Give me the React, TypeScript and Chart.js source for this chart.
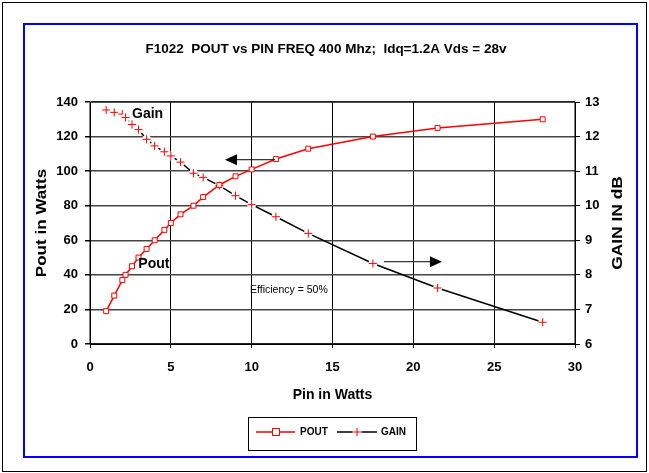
import { useEffect, useRef } from 'react';
import { Chart, registerables } from 'chart.js';

Chart.register(...registerables);

const W = 649;
const H = 473;

const TITLE = 'F1022  POUT vs PIN FREQ 400 Mhz;  Idq=1.2A Vds = 28v';
const X_TITLE = 'Pin in Watts';
const Y_TITLE = 'Pout in Watts';
const Y2_TITLE = 'GAIN IN dB';

const pinWatts = [1, 1.5, 2, 2.2, 2.6, 3, 3.5, 4, 4.6, 5, 5.6, 6.4, 7, 8, 9, 10, 11.5, 13.5, 17.5, 21.5, 28];
const poutWatts = [19, 28, 37, 40, 45, 50, 55, 60, 66, 70, 75, 80, 85, 92, 97, 101, 107, 113, 120, 125, 130];
const gainDb = [12.77, 12.7, 12.65, 12.55, 12.35, 12.2, 11.92, 11.73, 11.56, 11.44, 11.26, 10.94, 10.82, 10.58, 10.29, 10.03, 9.68, 9.2, 8.33, 7.62, 6.63];

// annotation anchors, in data units (x, left-axis y)
const gainLabel = { x: 2.6, y: 133, text: 'Gain' };
const poutLabel = { x: 2.99, y: 46.3, text: 'Pout' };
const effLabel = { x: 9.9, y: 31.2, text: 'Efficiency = 50%' };
const leftArrow = { x1: 11.44, x2: 8.35, y: 106.6 };
const rightArrow = { x1: 18.18, x2: 21.77, y: 47.6 };

function arrow(ctx: CanvasRenderingContext2D, x1: number, x2: number, y: number) {
  const dir = x2 > x1 ? 1 : -1;
  const headLen = 12;
  const half = 5.5;
  ctx.beginPath();
  ctx.moveTo(x1, y);
  ctx.lineTo(x2 - dir * headLen, y);
  ctx.strokeStyle = '#000';
  ctx.lineWidth = 1;
  ctx.stroke();
  ctx.beginPath();
  ctx.moveTo(x2, y);
  ctx.lineTo(x2 - dir * headLen, y - half);
  ctx.lineTo(x2 - dir * headLen, y + half);
  ctx.closePath();
  ctx.fillStyle = '#000';
  ctx.fill();
}

const decor = {
  id: 'decor',
  beforeDraw(chart: any) {
    const ctx = chart.ctx as CanvasRenderingContext2D;
    ctx.save();
    ctx.fillStyle = '#fff';
    ctx.fillRect(0, 0, W, H);
    ctx.strokeStyle = '#000';
    ctx.lineWidth = 1;
    ctx.strokeRect(2.5, 2.5, W - 5, H - 4);
    ctx.strokeStyle = '#0000ff';
    ctx.lineWidth = 2;
    ctx.strokeRect(24, 24, 613, 433);
    ctx.restore();
  },
  beforeDatasetsDraw(chart: any) {
    const ctx = chart.ctx as CanvasRenderingContext2D;
    const a = chart.chartArea;
    ctx.save();
    ctx.strokeStyle = '#000';
    ctx.lineWidth = 1;
    ctx.strokeRect(a.left, a.top, a.right - a.left, a.bottom - a.top);
    ctx.restore();
  },
  afterDatasetDraw(chart: any, args: any) {
    if (args.index !== 1) return;
    const ctx = chart.ctx as CanvasRenderingContext2D;
    ctx.save();
    for (const el of args.meta.data) {
      ctx.beginPath();
      ctx.arc(el.x, el.y, 4.5, 0, Math.PI * 2);
      ctx.fillStyle = '#fff';
      ctx.fill();
      el.draw(ctx, chart.chartArea);
    }
    ctx.restore();
  },
  afterDraw(chart: any) {
    const ctx = chart.ctx as CanvasRenderingContext2D;
    const xs = chart.scales.x;
    const ys = chart.scales.y;
    const a = chart.chartArea;
    ctx.save();
    ctx.fillStyle = '#000';
    ctx.textBaseline = 'middle';

    // title
    ctx.font = 'bold 13.5px Arial, "Liberation Sans", sans-serif';
    ctx.textAlign = 'center';
    ctx.fillText(TITLE, 326, 49);

    // x title
    ctx.font = 'bold 14px Arial, "Liberation Sans", sans-serif';
    ctx.fillText(X_TITLE, (a.left + a.right) / 2, 395);

    // y titles (both read bottom to top)
    const yc = (a.top + a.bottom) / 2;
    ctx.save();
    ctx.translate(42, yc);
    ctx.rotate(-Math.PI / 2);
    ctx.scale(1.22, 1);
    ctx.font = 'bold 14px Arial, "Liberation Sans", sans-serif';
    ctx.fillText(Y_TITLE, 0, 0);
    ctx.restore();
    ctx.save();
    ctx.translate(618, yc);
    ctx.rotate(-Math.PI / 2);
    ctx.scale(1.24, 1);
    ctx.font = 'bold 14px Arial, "Liberation Sans", sans-serif';
    ctx.fillText(Y2_TITLE, 0, 0);
    ctx.restore();

    // labels
    ctx.textAlign = 'left';
    ctx.font = 'bold 14px Arial, "Liberation Sans", sans-serif';
    ctx.fillText(gainLabel.text, xs.getPixelForValue(gainLabel.x), ys.getPixelForValue(gainLabel.y));
    ctx.fillText(poutLabel.text, xs.getPixelForValue(poutLabel.x), ys.getPixelForValue(poutLabel.y));
    ctx.font = '10.5px Arial, "Liberation Sans", sans-serif';
    ctx.fillText(effLabel.text, xs.getPixelForValue(effLabel.x), ys.getPixelForValue(effLabel.y));

    // arrows
    arrow(ctx, xs.getPixelForValue(leftArrow.x1), xs.getPixelForValue(leftArrow.x2), ys.getPixelForValue(leftArrow.y));
    arrow(ctx, xs.getPixelForValue(rightArrow.x1), xs.getPixelForValue(rightArrow.x2), ys.getPixelForValue(rightArrow.y));

    // legend
    ctx.strokeStyle = '#000';
    ctx.lineWidth = 1;
    ctx.strokeRect(248.5, 417.5, 168, 33);
    const ly = 432;
    ctx.beginPath();
    ctx.moveTo(256, ly);
    ctx.lineTo(295, ly);
    ctx.strokeStyle = '#ff0000';
    ctx.lineWidth = 1.5;
    ctx.stroke();
    ctx.fillStyle = '#fff';
    ctx.fillRect(272.5, ly - 3.5, 7, 7);
    ctx.lineWidth = 1;
    ctx.strokeRect(272.5, ly - 3.5, 7, 7);
    ctx.beginPath();
    ctx.moveTo(337, ly);
    ctx.lineTo(377, ly);
    ctx.strokeStyle = '#000';
    ctx.lineWidth = 1.5;
    ctx.stroke();
    ctx.beginPath();
    ctx.arc(357, ly, 4.5, 0, Math.PI * 2);
    ctx.fillStyle = '#fff';
    ctx.fill();
    ctx.beginPath();
    ctx.moveTo(353, ly);
    ctx.lineTo(361, ly);
    ctx.moveTo(357, ly - 4);
    ctx.lineTo(357, ly + 4);
    ctx.strokeStyle = '#ff0000';
    ctx.lineWidth = 1;
    ctx.stroke();
    ctx.fillStyle = '#000';
    ctx.font = 'bold 10px Arial, "Liberation Sans", sans-serif';
    ctx.textAlign = 'left';
    ctx.fillText('POUT', 300, ly);
    ctx.fillText('GAIN', 381, ly);

    ctx.restore();
  },
};

export default function App() {
  const ref = useRef<HTMLCanvasElement | null>(null);
  useEffect(() => {
    document.body.style.margin = '0';
    const canvas = ref.current;
    if (!canvas) return;
    const tickFont = { family: 'Arial, "Liberation Sans", sans-serif', size: 13, weight: 'bold' as const };
    const chart = new Chart(canvas, {
      type: 'line',
      data: {
        datasets: [
          {
            label: 'POUT',
            data: pinWatts.map((x, i) => ({ x, y: poutWatts[i] })),
            yAxisID: 'y',
            borderColor: '#ff0000',
            borderWidth: 1.5,
            pointStyle: 'rect',
            pointRadius: 3.5,
            pointBackgroundColor: '#fff',
            pointBorderColor: '#ff0000',
            pointBorderWidth: 1,
            tension: 0,
          },
          {
            label: 'GAIN',
            data: pinWatts.map((x, i) => ({ x, y: gainDb[i] })),
            yAxisID: 'y2',
            borderColor: '#000',
            borderWidth: 1.5,
            pointStyle: 'cross',
            pointRadius: 4,
            pointBorderColor: '#ff0000',
            pointBorderWidth: 1,
            tension: 0,
          },
        ],
      },
      options: {
        responsive: false,
        animation: false,
        devicePixelRatio: 1,
        layout: { padding: { top: 102, left: 0, right: 0, bottom: 0 } },
        plugins: { legend: { display: false }, title: { display: false }, tooltip: { enabled: false } },
        scales: {
          x: {
            type: 'linear',
            min: 0,
            max: 30,
            ticks: { stepSize: 5, color: '#000', font: tickFont, padding: 12, maxRotation: 0 },
            grid: { color: '#000', lineWidth: 1, tickLength: 4, tickColor: '#000' },
            border: { color: '#000', width: 1 },
            afterFit: (s: any) => { s.height = 129; },
          },
          y: {
            type: 'linear',
            position: 'left',
            min: 0,
            max: 140,
            ticks: { stepSize: 20, color: '#000', font: tickFont, padding: 7 },
            grid: { color: '#444444', lineWidth: 1.5, tickLength: 5, tickColor: '#000' },
            border: { color: '#000', width: 1 },
            afterFit: (s: any) => { s.width = 90; },
          },
          y2: {
            type: 'linear',
            position: 'right',
            min: 6,
            max: 13,
            ticks: { stepSize: 1, color: '#000', font: tickFont, padding: 5 },
            grid: { drawOnChartArea: false, color: '#000', tickLength: 5, tickColor: '#000' },
            border: { color: '#000', width: 1 },
            afterFit: (s: any) => { s.width = 74; },
          },
        },
      },
      plugins: [decor],
    });
    return () => chart.destroy();
  }, []);
  return <canvas ref={ref} width={W} height={H} style={{ display: 'block', width: W, height: H }} />;
}
